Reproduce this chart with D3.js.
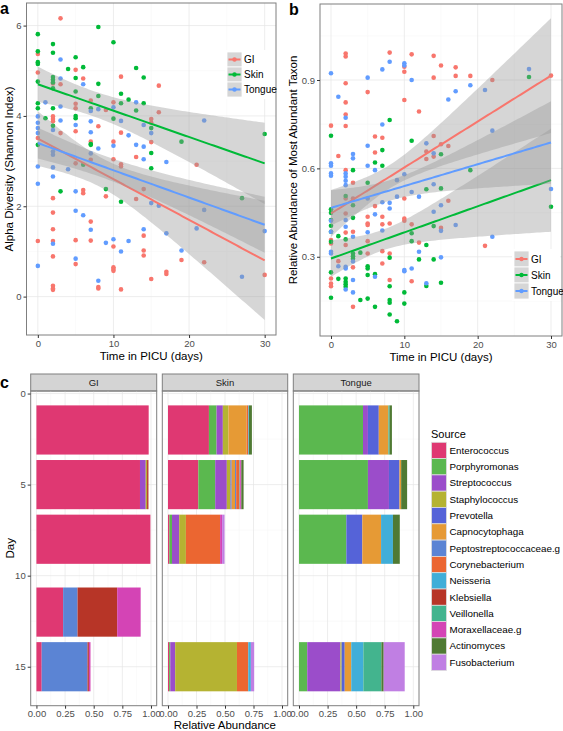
<!DOCTYPE html>
<html><head><meta charset="utf-8">
<script src="https://cdn.jsdelivr.net/npm/d3@7"></script>
<style>
body{margin:0;background:#fff;}
text{font-family:"Liberation Sans",Arial,sans-serif;}
</style></head>
<body><svg id="chart" width="563" height="731"></svg>
<script>
// ---------- DATA ----------
const groups = ["GI","Skin","Tongue"];
const groupColors = ["#F8766D","#00BA38","#619CFF"];

// Panel a: Alpha diversity (Shannon) vs time [day, value]
const aGI = [[0,5.37],[0,4.96],[0,3.51],[0,1.23],
 [2,4.72],[2,3.99],[2,3.93],[2,3.88],[2,2.18],[2,1.86],[2,1.49],[2,1.23],[2,0.89],[2,0.24],[2,0.18],[2,0.15],
 [3,6.16],[3,4.70],[3,3.62],
 [5,5.02],[5,4.27],[5,4.17],[5,3.66],[5,2.95],[5,1.25],[5,0.72],
 [6,4.83],[6,2.36],[6,2.29],
 [7,4.34],[7,3.43],[7,3.03],[7,1.66],[7,1.24],
 [8,3.77],[8,0.21],[8,0.18],
 [9,4.13],[9,2.22],
 [10,4.30],[10,3.43],[10,3.04],[10,1.11],[10,0.65],[10,0.61],[10,0.57],
 [11,4.87],[11,3.63],[11,2.93],[11,2.88],[11,0.16],
 [13,3.09],[13,2.16],
 [14,2.38],[14,1.35],[14,1.02],[14,0.91],
 [15,3.93],[15,3.85],[15,3.42],[15,0.39],
 [16,4.67],[16,4.08],
 [17,0.55],[17,0.50],
 [19,0.81],[21,2.92],[22,0.76],[30,0.48]];
const aSkin = [[0,5.81],[0,5.43],[0,5.19],[0,5.15],[0,4.76],[0,4.28],[0,4.17],[0,3.36],
 [1,3.95],
 [2,5.59],[2,5.40],[2,4.86],[2,4.80],[2,4.74],[2,4.61],[2,4.17],[2,3.78],
 [3,2.33],[4,5.04],
 [5,5.30],[5,4.84],[5,4.54],[5,4.00],[5,3.95],
 [6,5.08],[6,2.92],
 [7,4.17],[7,3.38],[7,3.36],
 [8,5.97],[8,4.71],[8,4.44],
 [9,2.38],
 [10,5.63],[10,3.94],
 [11,4.49],[11,4.28],[11,2.10],
 [12,4.36],
 [13,5.06],[13,4.12],
 [14,4.85],[14,4.28],
 [15,3.73],[15,3.18],[15,2.84],
 [19,3.43],[27,2.18],[30,3.60]];
const aTongue = [[0,3.99],[0,3.85],[0,3.73],[0,3.62],[0,2.88],[0,2.50],[0,0.68],
 [1,4.30],
 [2,3.69],[2,3.21],[2,3.14],[2,2.86],[2,2.66],[2,1.17],
 [3,5.25],[3,4.83],[3,4.21],[3,3.90],
 [4,2.82],
 [5,3.80],[5,2.33],[5,1.90],[5,0.84],
 [6,4.70],[6,1.80],
 [7,4.11],[7,3.88],[7,3.64],[7,3.17],[7,1.48],
 [8,4.15],[8,3.28],[8,0.35],
 [9,1.19],
 [10,4.19],[10,3.34],[10,1.27],
 [11,3.89],[11,1.00],
 [12,3.57],[12,1.23],
 [13,4.30],[13,3.36],
 [14,3.80],[14,3.32],[14,3.04],[14,1.49],
 [15,3.62],[15,2.07],
 [16,2.01],
 [17,2.98],[17,1.40],
 [19,1.02],[21,1.51],[22,3.90],[22,1.92],[27,0.44],[30,1.45]];

// Panel b: relative abundance of most abundant taxon [day, value]
const bGI = [[0,0.745],[0,0.357],[0,0.345],[0,0.226],[0,0.209],[0,0.200],
 [1,0.642],[1,0.285],
 [2,0.99],[2,0.98],[2,0.889],[2,0.824],[2,0.783],[2,0.744],[2,0.594],[2,0.498],[2,0.447],[2,0.382],[2,0.340],
 [3,0.551],[3,0.498],[3,0.385],[3,0.264],[3,0.130],
 [5,0.859],[5,0.436],[5,0.413],[5,0.408],[5,0.353],[5,0.311],
 [6,0.708],[6,0.654],[6,0.472],
 [7,0.704],[7,0.436],[7,0.41],[7,0.319],[7,0.277],
 [8,0.993],[8,0.413],[8,0.311],[8,0.221],
 [10,0.945],[10,0.928],[10,0.832],[10,0.498],[10,0.43],[10,0.422],
 [11,0.987],[11,0.41],[11,0.217],
 [12,0.793],[12,0.348],
 [13,0.657],[13,0.632],
 [14,0.982],[14,0.908],[14,0.71],[14,0.64],
 [15,0.949],[15,0.682],[15,0.398],
 [16,0.676],[16,0.49],
 [17,0.943],[17,0.914],
 [19,0.914],[21,0.337],[22,0.9],[30,0.915]];
const bSkin = [[0,0.711],[0,0.461],[0,0.449],[0,0.425],[0,0.405],[0,0.385],[0,0.351],[0,0.247],[0,0.161],
 [1,0.37],[1,0.225],
 [2,0.506],[2,0.359],[2,0.226],[2,0.215],[2,0.207],[2,0.198],
 [3,0.594],[3,0.475],[3,0.432],[3,0.311],[3,0.302],[3,0.293],
 [4,0.314],[4,0.153],
 [5,0.551],[5,0.268],[5,0.26],[5,0.238],[5,0.158],
 [6,0.62],[6,0.241],[6,0.13],
 [7,0.662],[7,0.609],
 [8,0.764],[8,0.297],[8,0.20],[8,0.153],[8,0.144],[8,0.104],
 [9,0.081],
 [10,0.179],[10,0.141],
 [11,0.694],[11,0.38],[11,0.353],
 [12,0.291],
 [13,0.529],[13,0.34],[13,0.201],
 [14,0.404],[14,0.291],
 [15,0.648],[15,0.532],[15,0.212],
 [19,0.594],[27,0.91],[30,0.47]];
const bTongue = [[0,0.923],[0,0.617],[0,0.609],[0,0.583],[0,0.575],[0,0.422],[0,0.385],[0,0.317],[0,0.311],
 [1,0.843],[1,0.268],
 [2,0.772],[2,0.583],[2,0.572],[2,0.558],[2,0.543],[2,0.425],[2,0.402],[2,0.266],[2,0.26],[2,0.189],
 [3,0.649],[3,0.634],[3,0.368],[3,0.284],[3,0.221],[3,0.179],
 [5,0.908],[5,0.677],[5,0.609],[5,0.498],[5,0.383],
 [6,0.594],[6,0.444],[6,0.232],
 [7,0.936],[7,0.749],[7,0.485],[7,0.389],
 [8,0.962],[8,0.483],[8,0.464],
 [9,0.56],[9,0.504],
 [10,0.957],[10,0.949],[10,0.58],[10,0.255],[10,0.251],
 [11,0.9],[11,0.52],[11,0.26],
 [12,0.504],[12,0.317],
 [13,0.685],[13,0.21],
 [14,0.651],[14,0.546],[14,0.453],
 [15,0.475],[15,0.388],[15,0.298],
 [16,0.834],
 [17,0.862],[17,0.408],
 [19,0.882],[21,0.866],[22,0.728],[22,0.368],[27,0.937],[30,0.53]];

// Linear fits, per group (GI, Skin, Tongue):
// [fitted value at day 0, fitted value at day 30, narrowest CI half-width, CI half-width at day 30]
const aFits = [[3.50,0.80,0.33,1.32],[4.70,2.95,0.28,0.90],[3.40,1.59,0.25,0.62]];
const bFits = [[0.447,0.915,0.040,0.195],[0.294,0.560,0.035,0.175],[0.466,0.688,0.035,0.140]];

const timeTicks = [0,10,20,30];
const aYTicks = [0,2,4,6];
const bYTicks = [0.3,0.6,0.9];

// Panel c: composition [day, taxon, relative abundance]
const taxa = ["Enterococcus","Porphyromonas","Streptococcus","Staphylococcus","Prevotella","Capnocytophaga",
 "Peptostreptococcaceae.g","Corynebacterium","Neisseria","Klebsiella","Veillonella","Moraxellaceae.g","Actinomyces","Fusobacterium"];
const taxaColors = ["#DF3872","#5BB84F","#9B4DCA","#B5B332","#5563D8","#E69A35",
 "#5B84D4","#EB6631","#40AED8","#B73527","#43B48E","#D444B5","#4F7A33","#C07FE3"];
const compGI = [[2,"Enterococcus",0.98],
 [5,"Enterococcus",0.904],[5,"Streptococcus",0.05],[5,"Staphylococcus",0.012],[5,"Klebsiella",0.012],
 [8,"Enterococcus",0.995],
 [12,"Enterococcus",0.233],[12,"Peptostreptococcaceae.g",0.126],[12,"Klebsiella",0.346],[12,"Moraxellaceae.g",0.205],
 [15,"Enterococcus",0.046],[15,"Peptostreptococcaceae.g",0.40],[15,"Klebsiella",0.012],[15,"Moraxellaceae.g",0.014]];
const compSkin = [[2,"Enterococcus",0.359],[2,"Porphyromonas",0.067],[2,"Streptococcus",0.055],[2,"Staphylococcus",0.049],
 [2,"Capnocytophaga",0.16],[2,"Corynebacterium",0.014],[2,"Neisseria",0.006],[2,"Actinomyces",0.026],
 [5,"Enterococcus",0.266],[5,"Porphyromonas",0.148],[5,"Streptococcus",0.102],[5,"Staphylococcus",0.032],[5,"Prevotella",0.01],
 [5,"Capnocytophaga",0.03],[5,"Peptostreptococcaceae.g",0.01],[5,"Corynebacterium",0.03],[5,"Neisseria",0.005],
 [5,"Moraxellaceae.g",0.01],[5,"Actinomyces",0.02],
 [8,"Enterococcus",0.012],[8,"Porphyromonas",0.023],[8,"Streptococcus",0.063],[8,"Staphylococcus",0.059],
 [8,"Corynebacterium",0.30],[8,"Moraxellaceae.g",0.018],[8,"Fusobacterium",0.021],
 [15,"Enterococcus",0.01],[15,"Porphyromonas",0.01],[15,"Streptococcus",0.043],[15,"Staphylococcus",0.542],
 [15,"Corynebacterium",0.099],[15,"Neisseria",0.023],[15,"Fusobacterium",0.029]];
const compTongue = [[2,"Porphyromonas",0.56],[2,"Streptococcus",0.043],[2,"Prevotella",0.095],[2,"Capnocytophaga",0.084],
 [2,"Veillonella",0.01],[2,"Actinomyces",0.021],
 [5,"Porphyromonas",0.603],[5,"Streptococcus",0.184],[5,"Prevotella",0.092],[5,"Capnocytophaga",0.015],[5,"Actinomyces",0.052],
 [8,"Porphyromonas",0.414],[8,"Prevotella",0.14],[8,"Capnocytophaga",0.164],[8,"Neisseria",0.104],[8,"Actinomyces",0.06],
 [15,"Porphyromonas",0.072],[15,"Streptococcus",0.29],[15,"Staphylococcus",0.011],[15,"Prevotella",0.027],
 [15,"Capnocytophaga",0.057],[15,"Neisseria",0.106],[15,"Veillonella",0.158],[15,"Actinomyces",0.02],[15,"Fusobacterium",0.184]];
const facets = ["GI","Skin","Tongue"];
const dayTicks = [0,5,10,15];
const abundTicks = [0,0.25,0.5,0.75,1];

// ---------- DRAW ----------
const svg = d3.select("#chart");
const GRID_MAJ = "#e5e5e5", GRID_MIN = "#f7f7f7", BORDER = "#7f7f7f", TICKTXT = "#4d4d4d";

// fitted line + confidence band (hyperbolic, narrowest at the mean day of the group's data)
function fitBand(pts, fit){
  const [v0,v30,hmin,h30] = fit;
  const m = d3.mean(pts,d=>d[0]);
  const k = (h30*h30 - hmin*hmin)/((30-m)*(30-m));
  const [lo,hi] = d3.extent(pts,d=>d[0]);
  return d3.range(0,81).map(i=>{
    const x = lo+(hi-lo)*i/80, f = v0+(v30-v0)*x/30, h = Math.sqrt(hmin*hmin + k*(x-m)*(x-m));
    return {x,f,l:f-h,u:f+h};
  });
}

function scatterPanel(cfg){
  const g = svg.append("g");
  const x = d3.scaleLinear().domain([-1.5,31.5]).range([cfg.x0,cfg.x1]);
  const y = d3.scaleLinear().domain(cfg.yDom).range([cfg.y1,cfg.y0]);
  g.append("rect").attr("x",cfg.x0).attr("y",cfg.y0).attr("width",cfg.x1-cfg.x0).attr("height",cfg.y1-cfg.y0).attr("fill","#fff");
  g.selectAll(".xmin").data([5,15,25]).join("line").attr("class","xmin").attr("x1",d=>x(d)).attr("x2",d=>x(d)).attr("y1",cfg.y0).attr("y2",cfg.y1).attr("stroke",GRID_MIN).attr("stroke-width",0.6);
  g.selectAll(".ymin").data(cfg.yMinor).join("line").attr("class","ymin").attr("y1",d=>y(d)).attr("y2",d=>y(d)).attr("x1",cfg.x0).attr("x2",cfg.x1).attr("stroke",GRID_MIN).attr("stroke-width",0.6);
  g.selectAll(".xmaj").data(timeTicks).join("line").attr("class","xmaj").attr("x1",d=>x(d)).attr("x2",d=>x(d)).attr("y1",cfg.y0).attr("y2",cfg.y1).attr("stroke",GRID_MAJ).attr("stroke-width",0.7);
  g.selectAll(".ymaj").data(cfg.yTicks).join("line").attr("class","ymaj").attr("y1",d=>y(d)).attr("y2",d=>y(d)).attr("x1",cfg.x0).attr("x2",cfg.x1).attr("stroke",GRID_MAJ).attr("stroke-width",0.7);

  cfg.data.forEach((pts,i)=>{
    g.append("g").selectAll("circle").data(pts).join("circle")
      .attr("cx",d=>x(d[0])).attr("cy",d=>y(d[1])).attr("r",2.3).attr("fill",groupColors[i]);
  });
  const clip = "clip"+cfg.label;
  svg.append("clipPath").attr("id",clip).append("rect").attr("x",cfg.x0).attr("y",cfg.y0).attr("width",cfg.x1-cfg.x0).attr("height",cfg.y1-cfg.y0);
  const sg = g.append("g").attr("clip-path",`url(#${clip})`);
  cfg.data.forEach((pts,i)=>{
    const fit = fitBand(pts, cfg.fits[i]);
    sg.append("path").datum(fit).attr("fill","#999999").attr("fill-opacity",0.4)
      .attr("d",d3.area().x(d=>x(d.x)).y0(d=>y(d.l)).y1(d=>y(d.u)));
    sg.append("path").datum(fit).attr("fill","none").attr("stroke",groupColors[i]).attr("stroke-width",2)
      .attr("d",d3.line().x(d=>x(d.x)).y(d=>y(d.f)));
  });
  g.append("rect").attr("x",cfg.x0).attr("y",cfg.y0).attr("width",cfg.x1-cfg.x0).attr("height",cfg.y1-cfg.y0)
    .attr("fill","none").attr("stroke",BORDER).attr("stroke-width",1);

  const xa = g.append("g").attr("transform",`translate(0,${cfg.y1})`).call(d3.axisBottom(x).tickValues(timeTicks).tickSize(3).tickPadding(2));
  const ya = g.append("g").attr("transform",`translate(${cfg.x0},0)`).call(d3.axisLeft(y).tickValues(cfg.yTicks).tickFormat(cfg.fmt).tickSize(3).tickPadding(2));
  [xa,ya].forEach(a=>{a.select(".domain").remove(); a.selectAll("line").attr("stroke","#333");
    a.selectAll("text").attr("fill",TICKTXT).style("font-size","9.5px").style("font-family","Liberation Sans, Arial, sans-serif");});
  g.append("text").attr("x",(cfg.x0+cfg.x1)/2).attr("y",cfg.y1+25).attr("text-anchor","middle").style("font-size","11.5px").text("Time in PICU (days)");
  g.append("text").attr("transform",`translate(${cfg.ytx},${(cfg.y0+cfg.y1)/2}) rotate(-90)`).attr("text-anchor","middle")
    .attr("dy","0.35em").style("font-size","11.5px").text(cfg.ytitle);
  svg.append("text").attr("x",cfg.lx).attr("y",cfg.ly).style("font-size","16px").style("font-weight","bold").text(cfg.label);

  const L = cfg.legend;
  const lg = g.append("g");
  lg.append("rect").attr("x",L.x-2).attr("y",L.y-2).attr("width",L.w).attr("height",L.step*3+4).attr("fill","#fff");
  groups.forEach((name,i)=>{
    const yy = L.y + i*L.step;
    lg.append("rect").attr("x",L.x).attr("y",yy).attr("width",15).attr("height",L.step).attr("fill","#d6d6d6").attr("stroke","#fff").attr("stroke-width",0.8);
    lg.append("line").attr("x1",L.x+1.5).attr("x2",L.x+13.5).attr("y1",yy+L.step/2).attr("y2",yy+L.step/2).attr("stroke",groupColors[i]).attr("stroke-width",2);
    lg.append("circle").attr("cx",L.x+7.5).attr("cy",yy+L.step/2).attr("r",2.2).attr("fill",groupColors[i]);
    lg.append("text").attr("x",L.x+17).attr("y",yy+L.step/2).attr("dy","0.35em").style("font-size","10px").text(name);
  });
}

scatterPanel({label:"a", lx:0, ly:14, x0:26.5, x1:276, y0:3, y1:335, yDom:[-0.85,6.5], yTicks:aYTicks, yMinor:[1,3,5],
  fmt:d3.format("d"), data:[aGI,aSkin,aTongue], fits:aFits, ytitle:"Alpha Diversity (Shannon Index)", ytx:9,
  legend:{x:227, y:52, step:15, w:50}});
scatterPanel({label:"b", lx:289, ly:15, x0:320, x1:562, y0:4, y1:336, yDom:[0.031,1.158], yTicks:bYTicks, yMinor:[0.15,0.45,0.75,1.05],
  fmt:d3.format(".1f"), data:[bGI,bSkin,bTongue], fits:bFits, ytitle:"Relative Abundance of Most Abundant Taxon", ytx:293,
  legend:{x:514, y:251, step:16, w:48}});

// ---------- Panel c ----------
const facetX = [[30.7,156.7],[162.3,287.7],[293.3,419]];
const comps = [compGI, compSkin, compTongue];
const cy0 = 391, cy1 = 705.7, stripY = 374;
const yc = d3.scaleLinear().domain([-0.14,17.14]).range([cy0,cy1]);
const colorOf = d3.scaleOrdinal().domain(taxa).range(taxaColors);
facets.forEach((f,fi)=>{
  const [fx0,fx1] = facetX[fi];
  const xc = d3.scaleLinear().domain([-0.05,1.05]).range([fx0,fx1]);
  const g = svg.append("g");
  g.append("rect").attr("x",fx0).attr("y",stripY).attr("width",fx1-fx0).attr("height",cy0-stripY).attr("fill","#d4d4d4").attr("stroke",BORDER).attr("stroke-width",1);
  g.append("text").attr("x",(fx0+fx1)/2).attr("y",(stripY+cy0)/2).attr("dy","0.35em").attr("text-anchor","middle").attr("fill","#1a1a1a").style("font-size","9.5px").text(f);
  g.selectAll(".xmin").data([0.125,0.375,0.625,0.875]).join("line").attr("class","xmin").attr("x1",d=>xc(d)).attr("x2",d=>xc(d)).attr("y1",cy0).attr("y2",cy1).attr("stroke",GRID_MIN).attr("stroke-width",0.6);
  g.selectAll(".ymin").data([2.5,7.5,12.5]).join("line").attr("class","ymin").attr("y1",d=>yc(d)).attr("y2",d=>yc(d)).attr("x1",fx0).attr("x2",fx1).attr("stroke",GRID_MIN).attr("stroke-width",0.6);
  g.selectAll(".xmaj").data(abundTicks).join("line").attr("class","xmaj").attr("x1",d=>xc(d)).attr("x2",d=>xc(d)).attr("y1",cy0).attr("y2",cy1).attr("stroke",GRID_MAJ).attr("stroke-width",0.7);
  g.selectAll(".ymaj").data(dayTicks).join("line").attr("class","ymaj").attr("y1",d=>yc(d)).attr("y2",d=>yc(d)).attr("x1",fx0).attr("x2",fx1).attr("stroke",GRID_MAJ).attr("stroke-width",0.7);
  const comp = comps[fi].slice().sort((a,b)=>a[0]-b[0] || taxa.indexOf(a[1])-taxa.indexOf(b[1]));
  const cum = {};
  const rects = comp.map(([day,tx,v])=>{const s = cum[day]||0; cum[day]=s+v; return {day,tx,s,e:s+v};});
  g.append("g").selectAll("rect").data(rects).join("rect")
    .attr("x",d=>xc(d.s)).attr("width",d=>xc(d.e)-xc(d.s))
    .attr("y",d=>yc(d.day-1.35)).attr("height",d=>yc(d.day+1.35)-yc(d.day-1.35))
    .attr("fill",d=>colorOf(d.tx));
  g.append("rect").attr("x",fx0).attr("y",cy0).attr("width",fx1-fx0).attr("height",cy1-cy0).attr("fill","none").attr("stroke",BORDER).attr("stroke-width",1);
  const xa = g.append("g").attr("transform",`translate(0,${cy1})`).call(d3.axisBottom(xc).tickValues(abundTicks).tickFormat(d3.format(".2f")).tickSize(3).tickPadding(2));
  xa.select(".domain").remove(); xa.selectAll("line").attr("stroke","#333");
  xa.selectAll("text").attr("fill",TICKTXT).style("font-size","9.5px").style("font-family","Liberation Sans, Arial, sans-serif");
  if(fi===0){
    const ya = g.append("g").attr("transform",`translate(${fx0},0)`).call(d3.axisLeft(yc).tickValues(dayTicks).tickFormat(d3.format("d")).tickSize(3).tickPadding(2));
    ya.select(".domain").remove(); ya.selectAll("line").attr("stroke","#333");
    ya.selectAll("text").attr("fill",TICKTXT).style("font-size","9.5px").style("font-family","Liberation Sans, Arial, sans-serif");
  }
});
svg.append("text").attr("x",0).attr("y",388).style("font-size","16px").style("font-weight","bold").text("c");
svg.append("text").attr("x",(facetX[0][0]+facetX[2][1])/2).attr("y",729).attr("text-anchor","middle").style("font-size","11.5px").text("Relative Abundance");
svg.append("text").attr("transform",`translate(10,${(cy0+cy1)/2}) rotate(-90)`).attr("text-anchor","middle").attr("dy","0.35em").style("font-size","11.5px").text("Day");

const lgc = svg.append("g");
lgc.append("text").attr("x",431).attr("y",434).attr("dy","0.35em").style("font-size","11px").text("Source");
taxa.forEach((t,i)=>{
  const yy = 442.3 + i*16.3;
  lgc.append("rect").attr("x",431.5).attr("y",yy).attr("width",15).attr("height",16.3).attr("fill",taxaColors[i]).attr("stroke","#ddd").attr("stroke-width",0.8);
  lgc.append("text").attr("x",449.5).attr("y",yy+8.15).attr("dy","0.35em").style("font-size","9.8px").text(t);
});
</script></body></html>
